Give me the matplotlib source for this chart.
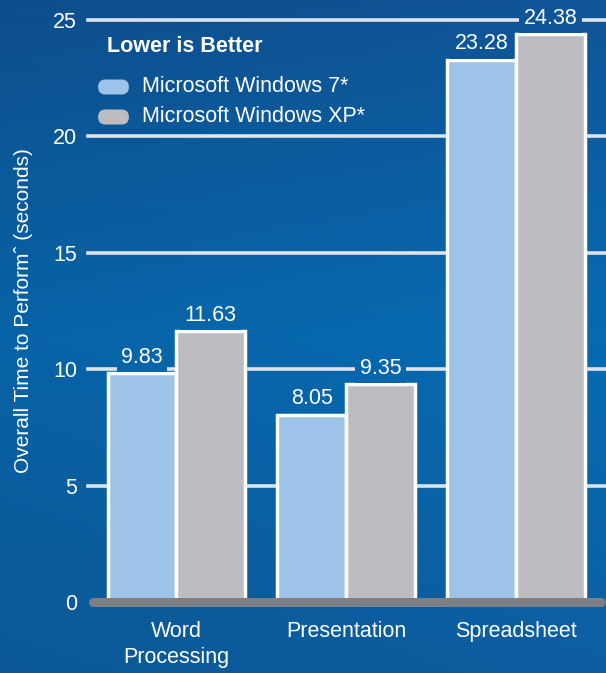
import matplotlib.pyplot as plt
import numpy as np
from matplotlib.patches import FancyBboxPatch
from matplotlib import font_manager as fm

categories = ['Word\nProcessing', 'Presentation', 'Spreadsheet']
win7 = [9.83, 8.05, 23.28]
winxp = [11.63, 9.35, 24.38]
series_names = ['Microsoft Windows 7*', 'Microsoft Windows XP*']
yticks = [0, 5, 10, 15, 20, 25]

names = {f.name for f in fm.fontManager.ttflist}
narrow = 'Liberation Sans Narrow' if 'Liberation Sans Narrow' in names else 'Liberation Sans'
plt.rcParams['font.family'] = [narrow, 'DejaVu Sans']

c7 = '#9dc3e8'
cxp = '#bcbcc1'
grid_c = '#dde3ea'

W, H = 606, 673
fig = plt.figure(figsize=(W / 100, H / 100), dpi=100)

# background gradient, fy=0 at bottom
top = np.array([0.06, 0.33, 0.59])
mid = np.array([0.03, 0.42, 0.70])
bot = np.array([0.05, 0.37, 0.63])


def bg_col(fx, fy):
    d = 1 - fy  # distance from top
    if d < 0.5:
        t = d / 0.5
        c = top * (1 - t) + mid * t
    else:
        t = (d - 0.5) / 0.5
        c = mid * (1 - t) + bot * t
    return np.clip(c * (0.93 + 0.07 * fx), 0, 1)


n = 200
img = np.array([[bg_col(i / (n - 1), 1 - j / (n - 1)) for i in range(n)] for j in range(n)])
bg = fig.add_axes([0, 0, 1, 1], zorder=-10)
bg.imshow(img, aspect='auto', extent=[0, 1, 0, 1])
bg.axis('off')

ax = fig.add_axes([88 / W, 1 - 602 / H, 1 - 88 / W, 582 / H])
ax.patch.set_alpha(0)
x = np.arange(len(categories))
w = 0.405
ax.set_xlim(-0.52, 2.53)
ax.set_ylim(0, 25)

for v in yticks[1:]:
    ax.plot([-0.52, 2.53], [v, v], color=grid_c, lw=2.6, zorder=1, clip_on=False)
ax.plot([-0.49, 2.50], [0, 0], color='#7e7f84', lw=6.5,
        solid_capstyle='round', zorder=5, clip_on=False)

b1 = ax.bar(x - w / 2, win7, w, color=c7, edgecolor='white', lw=2.5, zorder=3)
b2 = ax.bar(x + w / 2, winxp, w, color=cxp, edgecolor='white', lw=2.5, zorder=3)

for bars, vals in [(b1, win7), (b2, winxp)]:
    for b, v in zip(bars, vals):
        cx = b.get_x() + b.get_width() / 2
        fx, fy = fig.transFigure.inverted().transform(ax.transData.transform((cx, v)))
        ax.annotate(f'{v:.2f}', (cx, v),
                    xytext=(0, 4), textcoords='offset points',
                    ha='center', va='bottom', color='white', fontsize=15.5,
                    zorder=4,
                    bbox=dict(boxstyle='square,pad=0.2', fc=bg_col(fx, fy + 0.03), ec='none'))

for s in ax.spines.values():
    s.set_visible(False)
ax.set_yticks(yticks)
ax.set_yticklabels([str(v) for v in yticks], color='white', fontsize=15.5)
ax.tick_params(axis='y', length=0, pad=8)
ax.set_xticks(x)
ax.set_xticklabels(categories, color='white', fontsize=15.5, linespacing=1.3)
ax.tick_params(axis='x', length=0, pad=14)
ax.set_ylabel('Overall Time to Performˆ (seconds)', color='white', fontsize=15,
              labelpad=14)

# legend
fig.text(107 / W, 1 - 47 / H, 'Lower is Better', color='white', fontsize=15.5,
         fontweight='bold', va='center', ha='left', family=['Liberation Sans', 'DejaVu Sans'])
for i, (name, c) in enumerate(zip(series_names, [c7, cxp])):
    yc = 1 - (87 + 30 * i) / H
    fig.patches.append(FancyBboxPatch((98 / W, yc - 7.5 / H), 31 / W, 15 / H,
                                      boxstyle='round,pad=0,rounding_size=0.012',
                                      transform=fig.transFigure, fc=c, ec='none',
                                      zorder=6))
    fig.text(142 / W, yc, name, color='white', fontsize=15.5, va='center',
             ha='left', zorder=6)

fig.savefig('out.png', dpi=100)
